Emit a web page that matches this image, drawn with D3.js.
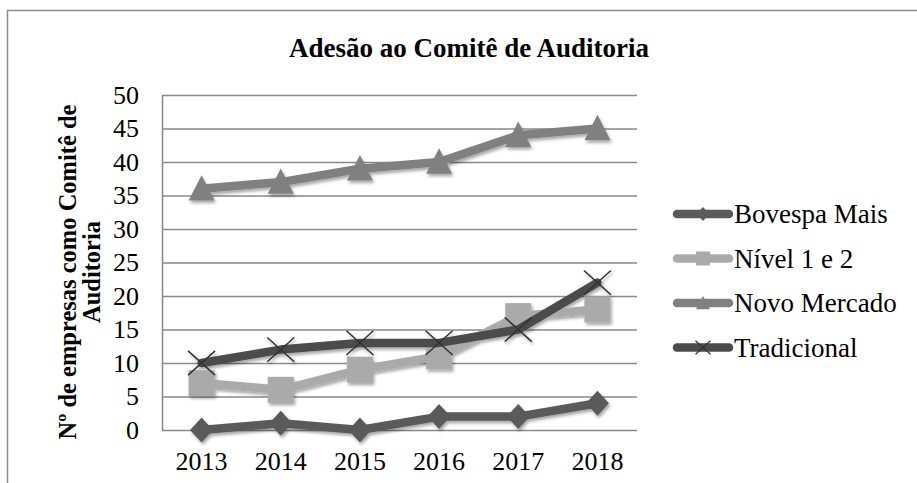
<!DOCTYPE html>
<html>
<head>
<meta charset="utf-8">
<script src="https://cdn.jsdelivr.net/npm/d3@7"></script>
<style>
  body { margin: 0; background: #fff; }
  svg text { font-family: "Liberation Serif", Tinos, "DejaVu Serif", "Times New Roman", Times, serif !important; fill: #000; }
</style>
</head>
<body>
<script>
'use strict';

(function() {

  // chart values
  const years = ["2013", "2014", "2015", "2016", "2017", "2018"];
  const seriesNames = ["Bovespa Mais", "Nível 1 e 2", "Novo Mercado", "Tradicional"];
  const bovespaMais = [0, 1, 0, 2, 2, 4];
  const nivel12 = [7, 6, 9, 11, 17, 18];
  const novoMercado = [36, 37, 39, 40, 44, 45];
  const tradicional = [10, 12, 13, 13, 15, 22];
  const yTicks = [0, 5, 10, 15, 20, 25, 30, 35, 40, 45, 50];

  const serifFont = '"Liberation Serif", Tinos, "DejaVu Serif", "Times New Roman", Times, serif';

  let svgContainer = "";

  let colors = {
    "Bovespa Mais": "#5a5a5a",
    "Nível 1 e 2": "#aaaaaa",
    "Novo Mercado": "#808080",
    "Tradicional": "#4b4b4b"
  };

  // custom marker shapes (size = full width in px)
  const diamond = { draw: function(ctx, s) { let r = s / 2; ctx.moveTo(0, -r); ctx.lineTo(r * 0.92, 0); ctx.lineTo(0, r); ctx.lineTo(-r * 0.92, 0); ctx.closePath(); } };
  const square = { draw: function(ctx, s) { let r = s / 2; ctx.rect(-r, -r, s, s); } };
  const triangle = { draw: function(ctx, s) { let r = s / 2; ctx.moveTo(0, -r * 1.05); ctx.lineTo(r, r * 0.9); ctx.lineTo(-r, r * 0.9); ctx.closePath(); } };
  const cross = { draw: function(ctx, s) { let r = s / 2; ctx.moveTo(-r, -r * 0.9); ctx.lineTo(r, r * 0.9); ctx.moveTo(r, -r * 0.9); ctx.lineTo(-r, r * 0.9); } };

  let markers = {
    "Bovespa Mais": diamond,
    "Nível 1 e 2": square,
    "Novo Mercado": triangle,
    "Tradicional": cross
  };

  window.onload = function() {
    svgContainer = d3.select('body')
      .append('svg')
      .attr('width', 917)
      .attr('height', 483)
      .style('font-family', serifFont);

    let data = [
      { name: seriesNames[0], values: bovespaMais },
      { name: seriesNames[1], values: nivel12 },
      { name: seriesNames[2], values: novoMercado },
      { name: seriesNames[3], values: tradicional }
    ];
    makeChart(data);
  }

  function makeChart(data) {
    // outer chart border (runs off the right and bottom edge)
    svgContainer.append('rect')
      .attr('x', 7.5)
      .attr('y', 10.5)
      .attr('width', 940)
      .attr('height', 500)
      .attr('fill', 'none')
      .attr('stroke', '#8c8c8c')
      .attr('stroke-width', 1.5);

    let defs = svgContainer.append('defs');
    defs.append('filter')
      .attr('id', 'shadow')
      .attr('x', '-20%').attr('y', '-20%')
      .attr('width', '140%').attr('height', '140%')
      .append('feDropShadow')
        .attr('dx', 1.5)
        .attr('dy', 2.5)
        .attr('stdDeviation', 1.6)
        .attr('flood-color', '#000')
        .attr('flood-opacity', 0.35);

    let xScale = d3.scaleBand()
      .domain(years)
      .range([162, 637]);

    let yScale = d3.scaleLinear()
      .domain([0, 50])
      .range([430, 95]);

    drawAxes(xScale, yScale);

    const xMap = function(d, i) { return xScale(years[i]) + xScale.bandwidth() / 2; };
    const yMap = function(d) { return yScale(d); };

    let line = d3.line()
      .x(xMap)
      .y(yMap);

    let plot = svgContainer.append('g').attr('filter', 'url(#shadow)');

    data.forEach(function(s) {
      let g = plot.append('g');
      g.append('path')
        .datum(s.values)
        .attr('d', line)
        .attr('fill', 'none')
        .attr('stroke', colors[s.name])
        .attr('stroke-width', 8.5)
        .attr('stroke-linejoin', 'round')
        .attr('stroke-linecap', 'round');

      let isCross = s.name == "Tradicional";
      g.selectAll('.marker')
        .data(s.values)
        .enter()
        .append('path')
          .attr('transform', function(d, i) { return 'translate(' + xMap(d, i) + ',' + yMap(d) + ')'; })
          .attr('d', d3.symbol().type(markers[s.name]).size(isCross ? 27 : (s.name == "Bovespa Mais" ? 25 : 26)))
          .attr('fill', isCross ? 'none' : colors[s.name])
          .attr('stroke', isCross ? '#333333' : 'none')
          .attr('stroke-width', isCross ? 1.5 : 0);
    });

    makeLegend();
    makeLabels();
  }

  function makeLegend() {
    let legend = svgContainer.selectAll('.legend')
      .data(seriesNames)
      .enter()
      .append('g')
        .attr('class', 'legend')
        .attr('transform', function(d, i) { return 'translate(0,' + (214 + i * 44.5) + ')'; });

    legend.append('line')
      .attr('x1', 677)
      .attr('x2', 729)
      .attr('y1', 0)
      .attr('y2', 0)
      .attr('stroke', function(d) { return colors[d]; })
      .attr('stroke-width', 8.5)
      .attr('stroke-linecap', 'round');

    legend.append('path')
      .attr('transform', 'translate(703,0)')
      .attr('d', function(d) { return d3.symbol().type(markers[d]).size(d == "Tradicional" ? 15 : 14)(); })
      .attr('fill', function(d) { return d == "Tradicional" ? 'none' : colors[d]; })
      .attr('stroke', function(d) { return d == "Tradicional" ? '#333333' : 'none'; })
      .attr('stroke-width', 1.3);

    legend.append('text')
      .attr('x', 734)
      .attr('y', 0)
      .attr('dy', '0.34em')
      .style('font-family', serifFont)
      .style('font-size', '27px')
      .text(function(d) { return d; });
  }

  // title and y axis label
  function makeLabels() {
    svgContainer.append('text')
      .attr('x', 469)
      .attr('y', 57)
      .attr('text-anchor', 'middle')
      .style('font-family', serifFont)
      .style('font-size', '27px')
      .style('font-weight', 'bold')
      .text('Adesão ao Comitê de Auditoria');

    let yTitle = svgContainer.append('text')
      .attr('transform', 'translate(0, 272)rotate(-90)')
      .attr('text-anchor', 'middle')
      .style('font-family', serifFont)
      .style('font-size', '24.5px')
      .style('font-weight', 'bold');
    yTitle.append('tspan')
      .attr('x', 0)
      .attr('y', 76)
      .text('Nº de empresas como Comitê de');
    yTitle.append('tspan')
      .attr('x', 0)
      .attr('y', 100)
      .text('Auditoria');
  }

  // draw the axes and gridlines
  function drawAxes(scaleX, scaleY) {
    let grid = d3.axisLeft(scaleY)
      .tickValues(yTicks)
      .tickSize(-(637 - 162))
      .tickFormat('');
    let gridG = svgContainer.append('g')
      .attr('transform', 'translate(162, 0)')
      .call(grid);
    gridG.selectAll('line')
      .attr('stroke', '#898989')
      .attr('stroke-width', 1.5);
    gridG.select('.domain').remove();

    let yAxis = d3.axisLeft(scaleY)
      .tickValues(yTicks)
      .tickSize(0)
      .tickPadding(23);
    let yG = svgContainer.append('g')
      .attr('transform', 'translate(162, 0)')
      .call(yAxis)
      .attr('font-family', null)
      .attr('font-size', null);
    yG.select('.domain')
      .attr('stroke', '#898989')
      .attr('stroke-width', 1.5);
    yG.selectAll('text')
      .style('font-family', serifFont)
      .style('font-size', '26px');

    let xAxis = d3.axisBottom(scaleX)
      .tickSize(0)
      .tickPadding(22);
    let xG = svgContainer.append('g')
      .attr('transform', 'translate(0, 430)')
      .call(xAxis)
      .attr('font-family', null)
      .attr('font-size', null);
    xG.select('.domain').remove();
    xG.selectAll('text')
      .style('font-family', serifFont)
      .style('font-size', '26px');
  }

})();
</script>
</body>
</html>
